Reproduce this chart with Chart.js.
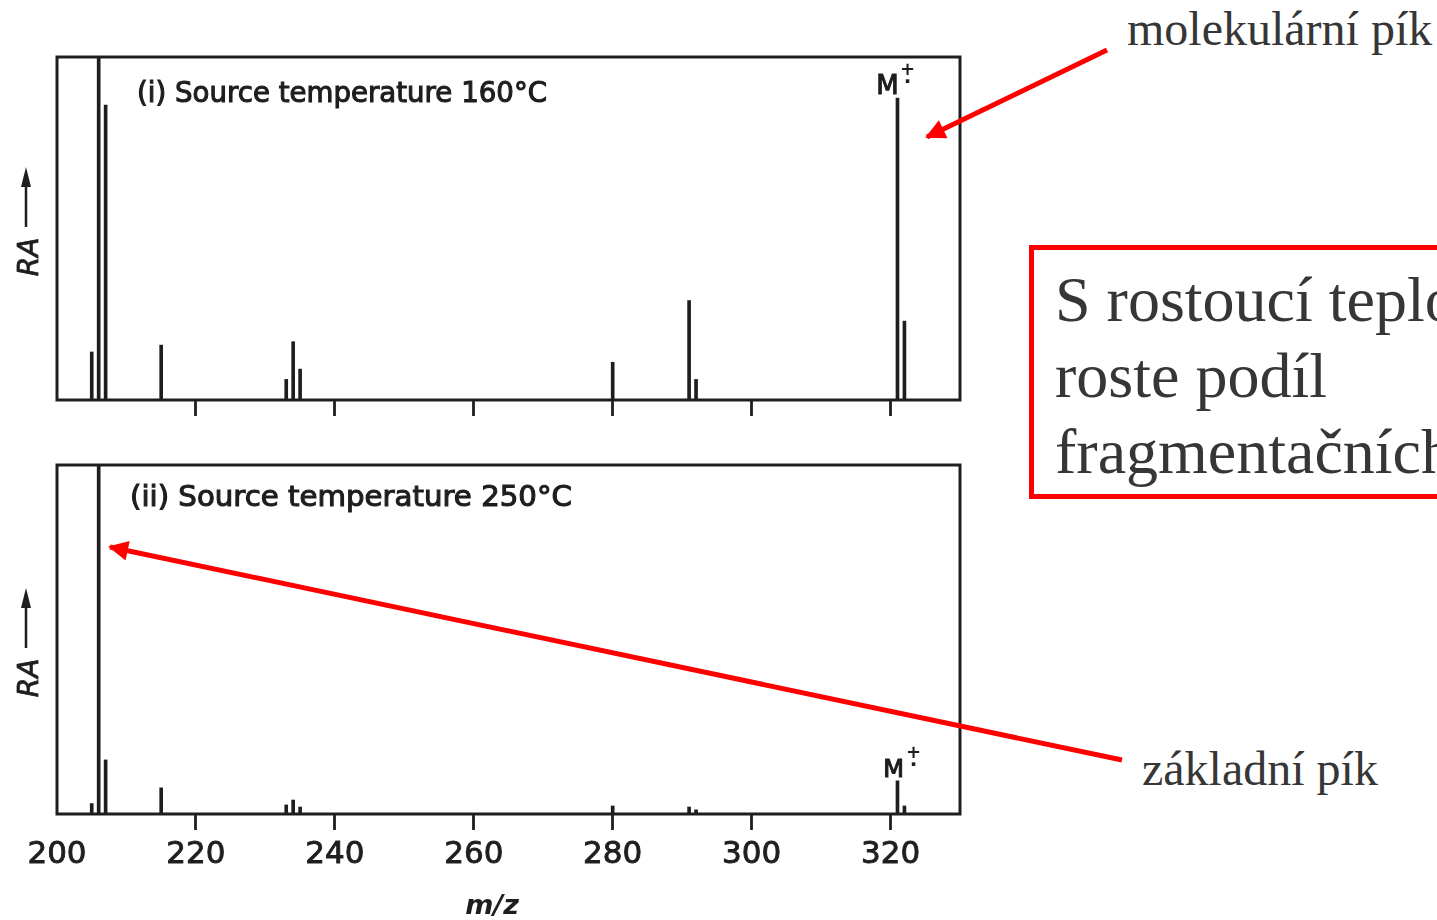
<!DOCTYPE html>
<html>
<head>
<meta charset="utf-8">
<title>Source temperature spectra</title>
<script src="https://cdn.jsdelivr.net/npm/chart.js@4.4.1/dist/chart.umd.min.js"></script>
<style>
html, body { margin: 0; padding: 0; background: #fff; }
body { width: 1437px; height: 920px; overflow: hidden; position: relative; }
#top-wrap { position: absolute; left: 0; top: 0; width: 1000px; height: 440px; }
#bottom-wrap { position: absolute; left: 0; top: 420px; width: 1000px; height: 500px; }
.note { position: absolute; font-family: "Liberation Serif", "Times New Roman", serif; color: #363636; white-space: nowrap; }
#note-mol { left: 1127px; top: 5px; font-size: 48px; line-height: 48px; }
#note-base { left: 1142px; top: 745px; font-size: 48px; line-height: 48px; }
#note-box { position: absolute; left: 1029px; top: 245px; width: 520px; height: 254px; border: 5px solid #ff0000; box-sizing: border-box; }
#note-box-text { left: 1055px; top: 262px; font-size: 64px; line-height: 76px; }
#arrows { position: absolute; left: 0; top: 0; pointer-events: none; }
</style>
</head>
<body>
<div id="top-wrap"><canvas id="spectrum-160" width="1000" height="440"></canvas></div>
<div id="bottom-wrap"><canvas id="spectrum-250" width="1000" height="500"></canvas></div>

<div class="note" id="note-mol">molekulární pík</div>
<div class="note" id="note-base">základní pík</div>
<div id="note-box"></div>
<div class="note" id="note-box-text">S rostoucí teplotou<br>roste podíl<br>fragmentačních iontů</div>

<svg id="arrows" width="1437" height="920">
  <defs>
    <marker id="head" viewBox="0 0 10 10" refX="9" refY="5" markerWidth="25" markerHeight="20" markerUnits="userSpaceOnUse" orient="auto">
      <path d="M0,0 L10,5 L0,10 z" fill="#ff0000"/>
    </marker>
  </defs>
  <line x1="1107" y1="50" x2="927" y2="137" stroke="#ff0000" stroke-width="5" marker-end="url(#head)"/>
  <line x1="1122" y1="760" x2="110" y2="547" stroke="#ff0000" stroke-width="5" marker-end="url(#head)"/>
</svg>

<script>
// m/z of the peaks and their relative abundance (% of the frame height)
const mz = [205, 206, 207, 215, 233, 234, 235, 280, 291, 292, 321, 322];
const ra160 = [14, 100, 86, 16, 6, 17, 9, 11, 29, 6, 88, 23];
const ra250 = [3, 100, 15.5, 7.5, 2.6, 4, 2, 2.3, 2, 1.2, 9.5, 2.3];
const mzTicks = [200, 220, 240, 260, 280, 300, 320];
const MZ_MIN = 200;
const MZ_MAX = 330;

const INK = "#1e1e1e";
const LETTER = "'DejaVu Sans', sans-serif";

// Frame, panel title, M+. label and the "RA" arrow, drawn over each chart.
const panelText = {
    id: "panelText",
    afterDraw(chart, args, opts) {
        const ctx = chart.ctx;
        const a = chart.chartArea;
        const xs = chart.scales.x;
        const ys = chart.scales.y;
        ctx.save();
        ctx.strokeStyle = INK;
        ctx.fillStyle = INK;
        ctx.lineWidth = 3;
        ctx.strokeRect(a.left, a.top, a.right - a.left, a.bottom - a.top);

        // title, stretched to the width of the hand lettering (stroked a bit for the pen weight)
        ctx.font = opts.titleSize + "px " + LETTER;
        ctx.textAlign = "left";
        ctx.textBaseline = "alphabetic";
        ctx.lineWidth = 1.1;
        const w = ctx.measureText(opts.title).width;
        ctx.save();
        ctx.translate(opts.titleX, a.top + opts.titleDy);
        ctx.scale(opts.titleW / w, 1);
        ctx.fillText(opts.title, 0, 0);
        ctx.strokeText(opts.title, 0, 0);
        ctx.restore();

        // molecular ion label
        const i = mz.indexOf(opts.ion);
        const px = xs.getPixelForValue(opts.ion) + opts.mDx;
        const py = ys.getPixelForValue(opts.values[i]) - 4;
        ctx.textAlign = "center";
        ctx.font = opts.mSize + "px " + LETTER;
        ctx.fillText("M", px, py);
        ctx.strokeText("M", px, py);
        ctx.textBaseline = "middle";
        ctx.font = "bold 18px " + LETTER;
        ctx.fillText("+", px + 20, py - 24);
        ctx.font = "bold 20px " + LETTER;
        ctx.fillText("·", px + 20, py - 11);

        // RA with the upward arrow
        const c = a.top + opts.raY;
        ctx.save();
        ctx.translate(38, c);
        ctx.rotate(-Math.PI / 2);
        ctx.textBaseline = "alphabetic";
        ctx.font = "italic 28px " + LETTER;
        ctx.lineWidth = 0.8;
        ctx.fillText("RA", 0, 0);
        ctx.strokeText("RA", 0, 0);
        ctx.restore();
        ctx.lineWidth = 2.5;
        ctx.beginPath();
        ctx.moveTo(26, c - 30);
        ctx.lineTo(26, c - 75);
        ctx.stroke();
        ctx.beginPath();
        ctx.moveTo(26, c - 90);
        ctx.lineTo(21, c - 70);
        ctx.lineTo(31, c - 70);
        ctx.closePath();
        ctx.fill();

        if (opts.xTitle) {
            ctx.font = "italic 600 27px " + LETTER;
            ctx.textBaseline = "alphabetic";
            ctx.fillText(opts.xTitle, opts.xTitleX, chart.height - 6);
        }
        ctx.restore();
    }
};

function CreateSpectrum(canvasId, values, axisHeight, padTop, showLabels, text) {
    return new Chart(document.getElementById(canvasId), {
        type: "bar",
        data: {
            datasets: [{
                data: mz.map((m, i) => ({ x: m, y: values[i] })),
                backgroundColor: INK,
                borderWidth: 0,
                barThickness: 3
            }]
        },
        options: {
            responsive: false,
            animation: false,
            layout: { padding: { left: 57, right: 40, top: padTop, bottom: 0 } },
            plugins: {
                legend: { display: false },
                tooltip: { enabled: false },
                panelText: text
            },
            scales: {
                x: {
                    type: "linear",
                    min: MZ_MIN,
                    max: MZ_MAX,
                    offset: false,
                    afterBuildTicks: (scale) => { scale.ticks = mzTicks.map(v => ({ value: v })); },
                    afterFit: (scale) => { scale.height = axisHeight; },
                    border: { display: false },
                    grid: {
                        offset: false,
                        drawOnChartArea: false,
                        drawTicks: true,
                        tickLength: 16,
                        tickWidth: 2.8,
                        tickColor: (ctx) => (ctx.tick && ctx.tick.value === MZ_MIN ? "rgba(0,0,0,0)" : INK)
                    },
                    ticks: {
                        display: showLabels,
                        color: INK,
                        padding: 6,
                        maxRotation: 0,
                        textStrokeColor: INK,
                        textStrokeWidth: 0.9,
                        font: { family: "DejaVu Sans", size: 31 },
                        callback: (v) => String(v)
                    }
                },
                y: {
                    display: false,
                    min: 0,
                    max: 100
                }
            }
        },
        plugins: [panelText]
    });
}

CreateSpectrum("spectrum-160", ra160, 40, 57, false, {
    title: "(i) Source temperature 160°C",
    titleX: 137, titleW: 410, titleDy: 45, titleSize: 28,
    ion: 321, values: ra160, mDx: -10, mSize: 26,
    raY: 200
});

CreateSpectrum("spectrum-250", ra250, 106, 45, true, {
    title: "(ii) Source temperature 250°C",
    titleX: 130, titleW: 442, titleDy: 41, titleSize: 28,
    ion: 321, values: ra250, mDx: -4, mSize: 24,
    raY: 213,
    xTitle: "m/z", xTitleX: 492
});
</script>
</body>
</html>
